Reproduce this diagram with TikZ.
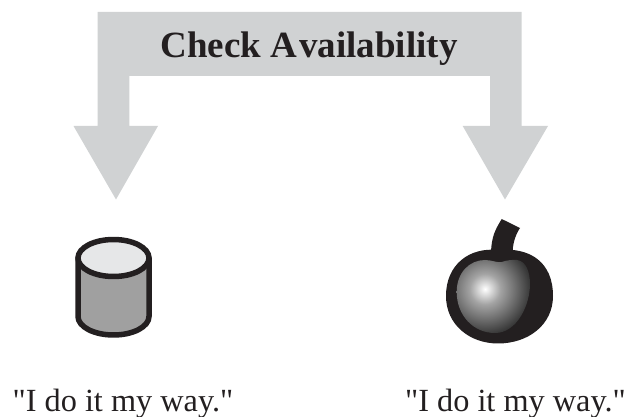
\documentclass[tikz,border=0pt]{standalone}
\usepackage{fontspec}
\setmainfont{Liberation Serif}
\newfontfamily\plainserif{Liberation Serif}[Ligatures=NoCommon]
\definecolor{arrowgray}{HTML}{D0D2D3}
\definecolor{inkblack}{HTML}{231F20}
\definecolor{cyltop}{HTML}{E6E7E8}
\definecolor{cylbody}{HTML}{A0A0A0}
\pgfdeclareradialshading{applesheen}{\pgfpoint{0bp}{0bp}}{%
  color(0bp)=(white);
  color(3.5bp)=(black!18);
  color(7bp)=(black!36);
  color(13.5bp)=(black!56);
  color(20.5bp)=(black!78);
  color(25bp)=(black!88);
  color(50bp)=(black!88)}
\tikzset{
  lbl/.style={inner sep=0pt,anchor=base,text=inkblack,font=\plainserif\fontsize{32.3}{36}\selectfont},
  ttl/.style={inner sep=0pt,anchor=base,text=inkblack,font=\fontsize{37}{41}\bfseries\selectfont},
  cyl/.style={draw=inkblack,line width=5.5pt,line join=round}
}
\begin{document}
\begin{tikzpicture}[x=1pt,y=-1pt]
\useasboundingbox (0,0) rectangle (625,417);
% bracket arrow
\fill[arrowgray] (97.7,12) -- (521.7,12) -- (521.7,126) -- (548,126) -- (505,199.5) -- (462.7,126) -- (490,126) -- (490,76) -- (129.3,76) -- (129.3,126) -- (158,126) -- (116,199.5) -- (73.5,126) -- (97.7,126) -- cycle;
\node[ttl] (title) at (309,57.5) {Check A\kern2pt vailability};
% cylinder
\path[fill=cylbody,cyl] (78,258) -- (78,316.5) arc[start angle=180,end angle=0,x radius=35.5,y radius=18.5] -- (149,258) -- cycle;
\path[fill=cyltop,cyl] (113.5,258) ellipse[x radius=35.5,y radius=18.5];
% apple
\fill[inkblack] (491,251) .. controls (492,236) and (495,230) .. (501.7,219) -- (520,228) .. controls (516,234) and (513,242) .. (512.7,251) -- cycle;
\fill[inkblack] (498,250) .. controls (530,247) and (553,262) .. (553,296) .. controls (553,325) and (528,343.5) .. (498,343.5) .. controls (470,343.5) and (446,325) .. (446,296) .. controls (446,264) and (470,247) .. (498,250) -- cycle;
\begin{scope}
  \clip (501.7,262) .. controls (506,260.5) and (512,259.5) .. (517,260) .. controls (526,261) and (530,272) .. (530,284) .. controls (530,305) and (517,333) .. (495,333) .. controls (473,333) and (456.7,315) .. (456.7,292) .. controls (456.7,272) and (470,260) .. (485,260) .. controls (492,260) and (497,263) .. (501.7,262) -- cycle;
  \shade[shading=applesheen] (485,289) circle[radius=55];
\end{scope}
\node[lbl] (leftlabel) at (123,411) {"I do it my way."};
\node[lbl] (rightlabel) at (515.5,411) {"I do it my way."};
\end{tikzpicture}
\end{document}
